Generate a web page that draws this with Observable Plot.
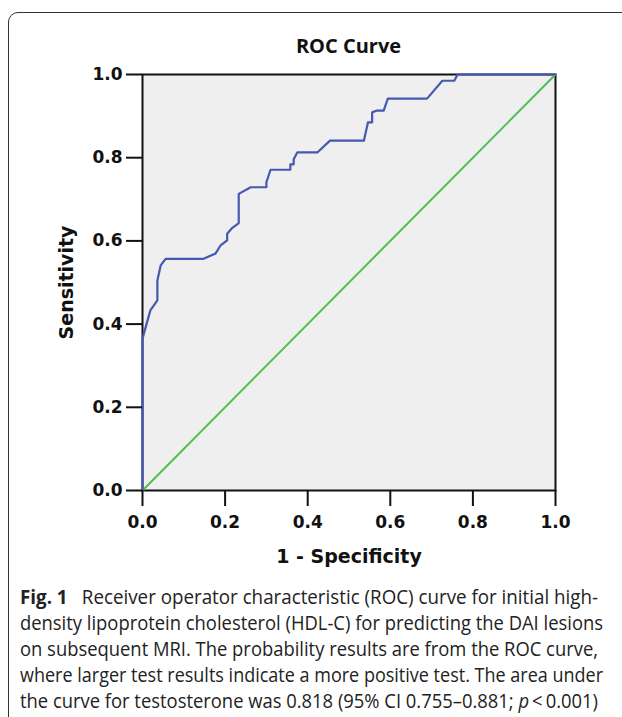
<!DOCTYPE html>
<html>
<head>
<meta charset="utf-8">
<script src="https://cdn.jsdelivr.net/npm/d3@7"></script>
<script src="https://cdn.jsdelivr.net/npm/@observablehq/plot@0.6"></script>
<style>
  html, body { margin: 0; padding: 0; background: #fff; }
  body { width: 622px; height: 717px; position: relative; overflow: hidden; }
  #box { position: absolute; left: 8px; top: 12px; width: 700px; height: 760px;
         border: 1.3px solid #333; border-radius: 10px; box-sizing: border-box; }
  #title { position: absolute; left: 0; width: 697px; top: 32px; text-align: center;
           font-family: "Open Sans", sans-serif; font-weight: bold; font-size: 20px; color: #111; }
  #chart { position: absolute; left: 0; top: 0; }
  #caption { position: absolute; left: 20px; top: 584px; width: 583px;
             font-family: "Open Sans", sans-serif; font-size: 19.5px; line-height: 26px; color: #222; }
  #caption .ln { white-space: nowrap; height: 26px; }
  #caption .ln span { display: inline-block; transform-origin: 0 50%; }
  #caption b { font-weight: bold; }
</style>
</head>
<body>
<div id="box"></div>
<div id="title">ROC Curve</div>
<div id="chart"></div>
<div id="caption"></div>
<script>
// ROC curve
const fpr = [0, 0, 0.019, 0.036, 0.036, 0.044, 0.056, 0.148, 0.177, 0.189, 0.205, 0.205, 0.217, 0.233, 0.233, 0.262, 0.300, 0.300, 0.310, 0.358, 0.358, 0.366, 0.366, 0.375, 0.424, 0.454, 0.536, 0.546, 0.556, 0.556, 0.566, 0.584, 0.594, 0.689, 0.726, 0.755, 0.763, 1.0];
const tpr = [0, 0.365, 0.433, 0.457, 0.505, 0.541, 0.557, 0.557, 0.570, 0.589, 0.601, 0.617, 0.631, 0.643, 0.713, 0.729, 0.729, 0.741, 0.771, 0.771, 0.784, 0.784, 0.796, 0.813, 0.813, 0.841, 0.841, 0.885, 0.885, 0.909, 0.913, 0.913, 0.942, 0.942, 0.985, 0.985, 1.0, 1.0];
// reference diagonal
const refX = [0, 1];
const refY = [0, 1];
const xTicks = [0, 0.2, 0.4, 0.6, 0.8, 1.0];
const yTicks = [0, 0.2, 0.4, 0.6, 0.8, 1.0];
const titleText = "ROC Curve";
const xLabel = "1 - Specificity";
const yLabel = "Sensitivity";
const captionBold = "Fig. 1";
const captionLines = [
  "Receiver operator characteristic (ROC) curve for initial high-",
  "density lipoprotein cholesterol (HDL-C) for predicting the DAI lesions",
  "on subsequent MRI. The probability results are from the ROC curve,",
  "where larger test results indicate a more positive test. The area under",
  "the curve for testosterone was 0.818 (95% CI 0.755–0.881; <i>p</i>\u2009<\u20090.001)"
];
const captionWidths = [578, 583, 578, 583, 578];

const roc = fpr.map((x, i) => ({x, y: tpr[i]}));
const diag = refX.map((x, i) => ({x, y: refY[i]}));

const plot = Plot.plot({
  width: 622,
  height: 580,
  marginTop: 74,
  marginLeft: 142,
  marginRight: 67,
  marginBottom: 90,
  style: {fontFamily: "DejaVu Sans, sans-serif", fontSize: "17px", background: "transparent", color: "#111"},
  x: {domain: [0, 1]},
  y: {domain: [0, 1]},
  marks: [
    Plot.frame({fill: "#efefef", stroke: "#111", strokeWidth: 2}),
    Plot.line(diag, {x: "x", y: "y", stroke: "#4cc152", strokeWidth: 2}),
    Plot.line(roc, {x: "x", y: "y", stroke: "#4659b0", strokeWidth: 2.2}),
    Plot.axisX({ticks: xTicks, tickSize: 16, tickPadding: 9, tickFormat: d3.format(".1f"), strokeWidth: 2, label: null, fontWeight: "bold"}),
    Plot.axisY({ticks: yTicks, tickSize: 16, tickPadding: 4, tickFormat: d3.format(".1f"), strokeWidth: 2, label: null, fontWeight: "bold"}),
    Plot.text([xLabel], {text: d => d, frameAnchor: "bottom", dy: 66, lineAnchor: "middle", fontSize: 19, fontWeight: "bold", fill: "#111"}),
    Plot.text([yLabel], {text: d => d, frameAnchor: "left", dx: -76, rotate: -90, lineAnchor: "middle", textAnchor: "middle", fontSize: 19, fontWeight: "bold", fill: "#111"})
  ]
});
document.getElementById("chart").appendChild(plot);
document.getElementById("title").textContent = titleText;

const cap = document.getElementById("caption");
captionLines.forEach((t, i) => {
  const d = document.createElement("div");
  d.className = "ln";
  const s = document.createElement("span");
  s.innerHTML = (i === 0 ? "<b>" + captionBold + "</b>\u2002 " : "") + t;
  d.appendChild(s);
  cap.appendChild(d);
  // fit the line to its column width by condensing the glyphs horizontally
  const w = s.getBoundingClientRect().width;
  s.style.transform = "scaleX(" + (captionWidths[i] / w) + ")";
});
</script>
</body>
</html>
